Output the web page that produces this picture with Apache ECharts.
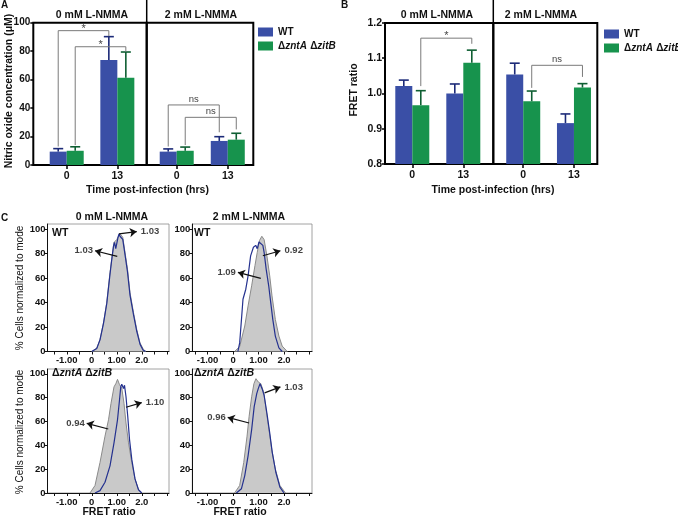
<!DOCTYPE html>
<html><head><meta charset="utf-8">
<script src="https://cdn.jsdelivr.net/npm/echarts@6/dist/echarts.min.js"></script>
<style>html,body{margin:0;padding:0;background:#fff}#c{width:678px;height:518px}</style>
</head><body><div id="c"></div>
<script>
const FONT = "'Liberation Sans', Arial, sans-serif";
const HALF = 8.5;               // half bar width (px), bars are 17px wide
const WT_COLOR = '#3a4fa6', KO_COLOR = '#17934d';
const WT_ERR = '#1c2a78', KO_ERR = '#0f5f33';

// ---------- shared ----------
const groups = [0, 1];
const timeLabels = ['0', '13'];
const seriesNames = ['WT', 'ΔzntA ΔzitB'];

// ---------- Panel A : nitric oxide (µM) ----------
const aYTicks = [0, 20, 40, 60, 80, 100];
const a0WT = [9.4, 73.8], a0WTerr = [11.5, 90.2];
const a0KO = [10.0, 61.4], a0KOerr = [12.8, 79.4];
const a2WT = [9.4, 16.9], a2WTerr = [11.3, 19.9];
const a2KO = [10.0, 17.8], a2KOerr = [12.6, 22.3];
// brackets: [group1, side1, group2, side2, top, bottom1, bottom2]
const a0Brackets = [[0, -1, 1, -1, 94.4, 13, 90.6], [0, 1, 1, 1, 83.1, 14, 79.6]];
const a0BracketText = ['*', '*'];
const a2Brackets = [[0, -1, 1, -1, 42.2, 13, 23], [0, 1, 1, 1, 33.5, 14, 25]];
const a2BracketText = ['ns', 'ns'];

// ---------- Panel B : FRET ratio ----------
const bYTicks = [0.8, 0.9, 1.0, 1.1, 1.2];
const b0WT = [1.021, 1.000], b0WTerr = [1.038, 1.027];
const b0KO = [0.967, 1.087], b0KOerr = [1.008, 1.123];
const b2WT = [1.054, 0.916], b2WTerr = [1.086, 0.942];
const b2KO = [0.978, 1.017], b2KOerr = [1.007, 1.028];
const b0Brackets = [[0, 1, 1, 1, 1.157, 1.021, 1.141]];
const b0BracketText = ['*'];
const b2Brackets = [[0, 1, 1, 1, 1.080, 1.016, 1.047]];
const b2BracketText = ['ns'];

// ---------- Panel C : FRET histograms (% of mode) ----------
const cXTickVals = [-1, 0, 1, 2];
const cXTickText = ['-1.00', '0', '1.00', '2.0'];
const cXMinorTicks = [-1.5, -1, -0.5, 0, 0.5, 1, 1.5, 2, 2.5, 3];
const cYTicks = [0, 20, 40, 60, 80, 100];

const histWT0_gray = [[0,0],[0.2,2.7],[0.33,9.8],[0.47,23.5],[0.6,40],[0.73,64.5],[0.8,75.4],[0.89,89],[1.0,91.3],[1.07,94],[1.13,96],[1.24,93.2],[1.33,81],[1.43,67.2],[1.53,48],[1.67,31.7],[1.8,18],[1.93,7],[2.07,1.6],[2.17,0]];
const histWT0_blue = [[0,0],[0.2,2.5],[0.33,9.5],[0.47,23],[0.6,39],[0.73,63],[0.8,75],[0.87,86],[0.91,89],[0.96,84],[1.0,88],[1.05,93],[1.09,96],[1.13,94],[1.17,94.5],[1.24,91.5],[1.33,79],[1.43,65],[1.53,46],[1.67,30],[1.8,16.5],[1.93,6],[2.05,1.2],[2.15,0]];
const histWT2_gray = [[0.06,0],[0.26,4],[0.46,20.8],[0.59,37.2],[0.73,53.6],[0.86,70],[0.95,80.9],[1.04,90.6],[1.13,94],[1.22,91.3],[1.33,78],[1.44,61.7],[1.53,45.4],[1.66,26.2],[1.8,12.6],[1.93,4.4],[2.13,0]];
const histWT2_blue = [[0.19,0],[0.26,7],[0.33,26],[0.39,42.6],[0.5,50.8],[0.59,61.7],[0.69,78],[0.8,85],[0.89,86.6],[0.95,83.9],[1.02,89.3],[1.09,90.6],[1.17,86.6],[1.22,80.9],[1.3,67.2],[1.4,53.6],[1.48,39.9],[1.56,26.2],[1.66,12.6],[1.8,3],[1.93,0]];
const histKO0_gray = [[-0.07,0],[0.13,6.3],[0.33,25.6],[0.53,47.7],[0.67,61.4],[0.77,75.2],[0.89,89],[0.97,92],[1.03,95.3],[1.11,90.9],[1.2,88],[1.29,75.2],[1.37,58.7],[1.47,42.1],[1.6,25.6],[1.73,11.8],[1.87,2.7],[2.0,0]];
const histKO0_blue = [[0.13,0],[0.33,2],[0.53,9],[0.73,22.8],[0.89,42],[1.03,61.4],[1.11,78],[1.16,89],[1.2,91.2],[1.27,87.6],[1.31,90.4],[1.37,80.7],[1.44,64.2],[1.51,45],[1.6,28.4],[1.73,11.8],[1.87,2.7],[2.0,0]];
const histKO2_gray = [[0.06,0],[0.26,6.3],[0.42,25.6],[0.55,47.7],[0.63,64.2],[0.73,80.7],[0.82,91.7],[0.9,95.9],[0.99,93.1],[1.09,91.7],[1.2,84.8],[1.3,69.6],[1.41,53.1],[1.52,36.6],[1.66,20.1],[1.84,6.3],[2.06,0]];
const histKO2_blue = [[0.13,0],[0.33,3.6],[0.46,14.6],[0.59,31.1],[0.73,53.1],[0.83,72.4],[0.93,83.4],[0.99,87.5],[1.06,91.7],[1.14,87.5],[1.22,82],[1.33,66.9],[1.44,50.4],[1.54,33.9],[1.68,17.4],[1.84,5],[2.0,0]];
// annotations: [from x, from y, to x, to y, text, label side]
const annWT0 = [[1.09, 95.9, 1.80, 97.8, '1.03', 'right'], [1.02, 77.6, 0.13, 82.2, '1.03', 'left']];
const annWT2 = [[1.17, 78.1, 1.86, 82.2, '0.92', 'right'], [1.09, 59.6, 0.19, 64.5, '1.09', 'left']];
const annKO0 = [[1.37, 71.9, 2.00, 75.8, '1.10', 'right'], [0.66, 53.7, -0.20, 58.4, '0.94', 'left']];
const annKO2 = [[1.24, 84.0, 1.86, 89.0, '1.03', 'right'], [0.63, 58.7, -0.21, 63.4, '0.96', 'left']];

// ================= builders =================
const chart = echarts.init(document.getElementById('c'), null, {renderer: 'canvas'});

function barSeries(name, gi, vals, color, startValue) {
  return {type: 'bar', name, xAxisIndex: gi, yAxisIndex: gi, barWidth: 17, barGap: '0%',
    startValue, clip: true, itemStyle: {color}, z: 2, silent: true,
    data: groups.map((g, i) => [g, vals[i]])};
}
function errSeries(gi, vals, errs, side, color) {
  return {type: 'custom', xAxisIndex: gi, yAxisIndex: gi, z: 3, silent: true,
    data: groups.map((g, i) => [g, vals[i], errs[i]]),
    renderItem: (params, api) => {
      const base = api.coord([api.value(0), api.value(1)]);
      const top = api.coord([api.value(0), api.value(2)]);
      const x = base[0] + side * HALF;
      const st = {stroke: color, lineWidth: 1.6};
      return {type: 'group', children: [
        {type: 'line', shape: {x1: x, y1: base[1], x2: x, y2: top[1]}, style: st},
        {type: 'line', shape: {x1: x - 5, y1: top[1], x2: x + 5, y2: top[1]}, style: st}
      ]};
    }};
}
function bracketSeries(gi, list, texts) {
  return {type: 'custom', xAxisIndex: gi, yAxisIndex: gi, z: 4, silent: true,
    data: list.map(b => [b[0], b[4]]),
    renderItem: (params, api) => {
      const b = list[params.dataIndex];
      const t1 = api.coord([b[0], b[4]]), t2 = api.coord([b[2], b[4]]);
      const l1 = api.coord([b[0], b[5]]), l2 = api.coord([b[2], b[6]]);
      const x1 = t1[0] + b[1] * HALF, x2 = t2[0] + b[3] * HALF, y = t1[1];
      const txt = texts[params.dataIndex];
      const star = txt === '*';
      return {type: 'group', children: [
        {type: 'polyline', shape: {points: [[x1, l1[1]], [x1, y], [x2, y], [x2, l2[1]]]},
          style: {stroke: '#7a7a7a', lineWidth: 1, fill: null}},
        {type: 'text', x: (x1 + x2) / 2, y: star ? y - 2 : y - 1,
          style: {text: txt, align: 'center', verticalAlign: star ? 'middle' : 'bottom',
            fontFamily: FONT, fontSize: star ? 11 : 9.5, fill: '#444'}}
      ]};
    }};
}
function histGray(gi, pts) {
  return {type: 'line', xAxisIndex: gi, yAxisIndex: gi, data: pts, symbol: 'none', silent: true,
    lineStyle: {color: '#8a8a8a', width: 1}, areaStyle: {color: '#c9c9c9', opacity: 1}, z: 2, clip: true};
}
function histBlue(gi, pts, ann) {
  return {type: 'line', xAxisIndex: gi, yAxisIndex: gi, data: pts, symbol: 'none', silent: true,
    lineStyle: {color: '#24318f', width: 1.2}, z: 3, clip: true,
    markLine: {silent: true, symbol: ['none', 'arrow'], symbolSize: 7, animation: false,
      lineStyle: {color: '#111', width: 1.2, type: 'solid'}, label: {show: false},
      data: ann.map(a => [{coord: [a[0], a[1]]}, {coord: [a[2], a[3]]}])}};
}
function annLabels(gi, ann) {
  return {type: 'scatter', xAxisIndex: gi, yAxisIndex: gi, symbolSize: 0, silent: true, z: 5,
    data: ann.map(a => ({value: [a[2], a[3]],
      label: {show: true, formatter: a[4], position: a[5], distance: a[5] === 'right' ? 4 : 2,
        fontFamily: FONT, fontWeight: 'bold', fontSize: 9.5, color: '#111'}}))};
}

// ================= grids & axes =================
const grids = [
  {left: 33.3, top: 22.7, width: 113.4, height: 142.3},   // A left
  {left: 146.7, top: 22.7, width: 106.6, height: 142.3},  // A right
  {left: 385, top: 23, width: 108.3, height: 141},        // B left
  {left: 493.3, top: 23, width: 104, height: 141},        // B right
  {left: 47.5, top: 224, width: 121.5, height: 127.5},    // C top-left
  {left: 192.3, top: 224, width: 119.7, height: 127.5},   // C top-right
  {left: 47.5, top: 369, width: 121.5, height: 124},      // C bottom-left
  {left: 192.3, top: 369, width: 119.7, height: 124}      // C bottom-right
].map((g, i) => Object.assign(g, {outerBoundsMode: 'none'}, i < 4
  ? {show: true, borderColor: '#000', borderWidth: 2, backgroundColor: 'transparent'}
  : {show: true, borderColor: '#8a8a8a', borderWidth: 0.8, backgroundColor: 'transparent'}));

const barXRanges = [[-0.66, 1.58], [-0.588, 1.5], [-0.535, 1.588], [-0.59, 1.46]];
const histXRanges = [[-1.77, 3.09], [-1.6, 3.1], [-1.77, 3.09], [-1.6, 3.1]];

const lbl = (size) => ({fontFamily: FONT, fontWeight: 'bold', fontSize: size, color: '#111'});
const xAxes = [], yAxes = [];
barXRanges.forEach((r, i) => {
  xAxes.push({type: 'value', gridIndex: i, min: r[0], max: r[1],
    axisLine: {show: false, onZero: false}, splitLine: {show: false},
    axisTick: {show: true, customValues: groups, length: 4, lineStyle: {color: '#000', width: 1.5}},
    axisLabel: Object.assign({customValues: groups, margin: 6,
      formatter: v => timeLabels[groups.indexOf(v)]}, lbl(10.5))});
});
histXRanges.forEach((r, i) => {
  xAxes.push({type: 'value', gridIndex: 4 + i, min: r[0], max: r[1], splitLine: {show: false},
    axisLine: {show: true, onZero: false, lineStyle: {color: '#111', width: 1}},
    axisTick: {show: true, customValues: cXMinorTicks, length: 3, lineStyle: {color: '#111'}},
    axisLabel: Object.assign({customValues: cXTickVals, margin: 4,
      formatter: v => cXTickText[cXTickVals.indexOf(v)]}, lbl(9.5))});
});
[0, 1].forEach(i => yAxes.push({type: 'value', gridIndex: i, min: 0, max: 100,
  splitLine: {show: false}, axisLine: {show: false, onZero: false},
  axisTick: {show: i === 0, customValues: aYTicks, length: 3, lineStyle: {color: '#000', width: 1.5}},
  axisLabel: Object.assign({show: i === 0, customValues: aYTicks, margin: 3, hideOverlap: false}, lbl(10))}));
[2, 3].forEach(i => yAxes.push({type: 'value', gridIndex: i, min: 0.8, max: 1.2,
  splitLine: {show: false}, axisLine: {show: false, onZero: false},
  axisTick: {show: i === 2, customValues: bYTicks, length: 3, lineStyle: {color: '#000', width: 1.5}},
  axisLabel: Object.assign({show: i === 2, customValues: bYTicks, margin: 3, formatter: v => v.toFixed(1)}, lbl(10.5))}));
[4, 5, 6, 7].forEach(i => yAxes.push({type: 'value', gridIndex: i, min: 0, max: 104,
  splitLine: {show: false},
  axisLine: {show: true, onZero: false, lineStyle: {color: '#111', width: 1}},
  axisTick: {show: true, customValues: cYTicks, length: 3, lineStyle: {color: '#111'}},
  axisLabel: Object.assign({customValues: cYTicks, margin: 2}, lbl(9.5))}));

// ================= series =================
const series = [
  barSeries(seriesNames[0], 0, a0WT, WT_COLOR), barSeries(seriesNames[1], 0, a0KO, KO_COLOR),
  errSeries(0, a0WT, a0WTerr, -1, WT_ERR), errSeries(0, a0KO, a0KOerr, 1, KO_ERR),
  bracketSeries(0, a0Brackets, a0BracketText),
  barSeries(seriesNames[0], 1, a2WT, WT_COLOR), barSeries(seriesNames[1], 1, a2KO, KO_COLOR),
  errSeries(1, a2WT, a2WTerr, -1, WT_ERR), errSeries(1, a2KO, a2KOerr, 1, KO_ERR),
  bracketSeries(1, a2Brackets, a2BracketText),
  barSeries(seriesNames[0], 2, b0WT, WT_COLOR, 0.8), barSeries(seriesNames[1], 2, b0KO, KO_COLOR, 0.8),
  errSeries(2, b0WT, b0WTerr, -1, WT_ERR), errSeries(2, b0KO, b0KOerr, 1, KO_ERR),
  bracketSeries(2, b0Brackets, b0BracketText),
  barSeries(seriesNames[0], 3, b2WT, WT_COLOR, 0.8), barSeries(seriesNames[1], 3, b2KO, KO_COLOR, 0.8),
  errSeries(3, b2WT, b2WTerr, -1, WT_ERR), errSeries(3, b2KO, b2KOerr, 1, KO_ERR),
  bracketSeries(3, b2Brackets, b2BracketText),
  histGray(4, histWT0_gray), histBlue(4, histWT0_blue, annWT0), annLabels(4, annWT0),
  histGray(5, histWT2_gray), histBlue(5, histWT2_blue, annWT2), annLabels(5, annWT2),
  histGray(6, histKO0_gray), histBlue(6, histKO0_blue, annKO0), annLabels(6, annKO0),
  histGray(7, histKO2_gray), histBlue(7, histKO2_blue, annKO2), annLabels(7, annKO2)
];

// ================= legends =================
const legendRich = {
  b: {fontFamily: FONT, fontWeight: 'bold', fontSize: 10, color: '#111', lineHeight: 12},
  i: {fontFamily: FONT, fontWeight: 'bold', fontStyle: 'italic', fontSize: 10, color: '#111', lineHeight: 12}
};
const legendFmt = n => n === 'WT' ? '{b|WT}' : '{b|Δ}{i|zntA} {b|Δ}{i|zitB}';
const mkLegend = (left, top) => ({left, top, orient: 'vertical', icon: 'rect', itemWidth: 15, itemHeight: 9,
  itemGap: 3, selectedMode: false, data: seriesNames, formatter: legendFmt, padding: 0,
  textStyle: {rich: legendRich}});

// ================= text / decoration =================
const T = (x, y, text, o = {}) => ({type: 'text', x, y, rotation: o.rot || 0, silent: true, z: 10,
  style: {text, fontFamily: FONT, fontWeight: o.w || 'bold', fontSize: o.size || 10.5, fill: o.fill || '#111',
    align: o.align || 'center', verticalAlign: 'middle', rich: o.rich}});
const richKO = {
  n: {fontFamily: FONT, fontWeight: 'bold', fontSize: 10.5, fill: '#111'},
  i: {fontFamily: FONT, fontWeight: 'bold', fontStyle: 'italic', fontSize: 10.5, fill: '#111'}
};
const KOtext = '{n|Δ}{i|zntA} {n|Δ}{i|zitB}';
const R = Math.PI / 2;
const graphic = [
  T(1, 5, 'A', {align: 'left', size: 10}), T(341, 5, 'B', {align: 'left', size: 10}), T(1, 218, 'C', {align: 'left', size: 10}),
  T(92, 15, '0 mM L-NMMA'), T(201, 15, '2 mM L-NMMA'),
  T(437, 15, '0 mM L-NMMA'), T(541, 15, '2 mM L-NMMA'),
  T(112, 217, '0 mM L-NMMA'), T(249, 217, '2 mM L-NMMA'),
  T(147.5, 190, 'Time post-infection (hrs)'), T(493, 190, 'Time post-infection (hrs)'),
  T(109, 512, 'FRET ratio'), T(240, 512, 'FRET ratio'),
  T(9, 91, 'Nitric oxide concentration (μM)', {rot: R}),
  T(354, 90, 'FRET ratio', {rot: R}),
  T(20, 288, '% Cells normalized to mode', {rot: R, w: 'normal', size: 10}),
  T(20, 432, '% Cells normalized to mode', {rot: R, w: 'normal', size: 10}),
  T(52, 233, 'WT', {align: 'left'}), T(194, 233, 'WT', {align: 'left'}),
  T(52, 373, KOtext, {align: 'left', rich: richKO}), T(194, 373, KOtext, {align: 'left', rich: richKO}),
  {type: 'line', silent: true, z: 10, shape: {x1: 146.7, y1: 0, x2: 146.7, y2: 23}, style: {stroke: '#000', lineWidth: 1.5}},
  {type: 'line', silent: true, z: 10, shape: {x1: 493.3, y1: 0, x2: 493.3, y2: 23}, style: {stroke: '#000', lineWidth: 1.5}}
];

chart.setOption({
  animation: false,
  backgroundColor: '#fff',
  grid: grids, xAxis: xAxes, yAxis: yAxes, series,
  legend: [mkLegend(258, 27), mkLegend(604, 29)],
  graphic
});
</script></body></html>
